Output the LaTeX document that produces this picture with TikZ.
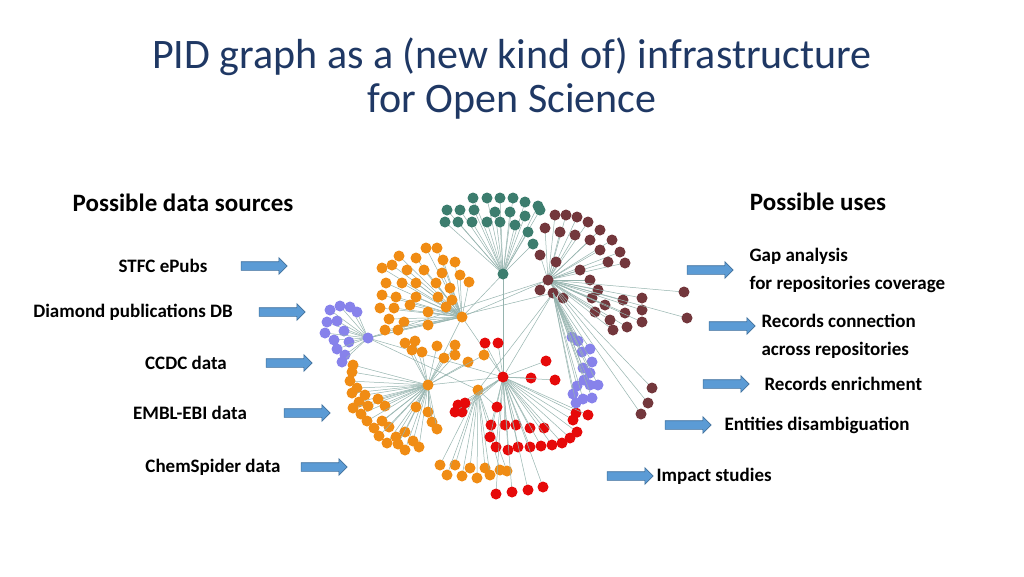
\documentclass[tikz,border=0pt]{standalone}
\usepackage{fontspec}
\setmainfont{Carlito}
\usetikzlibrary{shapes.arrows}
\definecolor{titleblue}{RGB}{31,56,100}
\definecolor{dteal}{RGB}{60,125,110}
\definecolor{dbrown}{RGB}{115,55,60}
\definecolor{dorange}{RGB}{240,140,20}
\definecolor{dpurple}{RGB}{135,130,235}
\definecolor{dred}{RGB}{230,10,10}
\definecolor{edgecol}{RGB}{150,180,175}
\definecolor{arrowblue}{RGB}{91,155,213}
\definecolor{arrowline}{RGB}{65,113,156}
\tikzset{
  dot/.style={circle,inner sep=0pt,minimum size=11pt,fill=#1},
  link/.style={draw=edgecol,line width=0.5pt},
  bluearrow/.style={single arrow,draw=arrowline,fill=arrowblue,line width=0.6pt,
    minimum width=16pt,minimum height=46pt,single arrow head extend=4pt,
    inner xsep=0pt,inner ysep=4pt},
  head/.style={font=\fontsize{25}{30}\selectfont\bfseries},
  lbl/.style={font=\fontsize{19}{28}\selectfont\bfseries,align=left}
}
\begin{document}
\begin{tikzpicture}[x=1pt,y=-1pt]
\useasboundingbox (0,0) rectangle (1024,576);
\fill[white] (0,0) rectangle (1024,576);

% title
\node[text=titleblue,align=center,font=\fontsize{42}{44}\selectfont] (title) at (512,79)
  {PID graph as a (new kind of) infrastructure\\for Open Science};

% hubs
\coordinate (hteal) at (503,274);
\coordinate (hbrown) at (548,280);
\coordinate (hbrownb) at (553,293);
\coordinate (horA) at (462,317);
\coordinate (hpur) at (368,338);
\coordinate (horB) at (428,385);
\coordinate (horC) at (478,390);
\coordinate (hred) at (503,377);
\coordinate (hredb) at (497,407);

% links between hubs
\foreach \a/\b in {hpur/horA,hpur/hred,hpur/horC,hpur/hbrownb,horA/hbrown,horA/hteal,horA/horB,
  horA/hred,hbrownb/horC,hbrownb/hred,hteal/hred,horB/hred,horC/hredb,hbrown/hpur}
  \path[link] (\a) -- (\b);

% teal
\foreach \x/\y [count=\i] in {473/198,487/198,500/198,513/198,525/202,538/206,447/210,460/210,
  474/210,495/212,510/212,525/216,540/210,445/222,458/222,472/222,487/222,500/222,515/225,
  528/232,533/244}{
  \path[link] (hteal) -- (\x,\y);
  \node[dot=dteal] (t\i) at (\x,\y) {};}
\node[dot=dteal] (thub) at (hteal) {};

% brown
\foreach \x/\y [count=\i] in {555/215,566/215,577/217,588/222,600/230,612/240,620/252,625/263,
  545/228,560/232,575/235,590/240,600/250,608/262,540/255,556/262,580/270,590/280,598/290,
  540/290,563/298,592/298,605/305,623/300,625/313,627/327,642/298,642/310,642/322,595/312,
  610/320,613/330,684/292,687/318,652/388,648/403,641/414}{
  \path[link] (hbrown) -- (\x,\y);
  \node[dot=dbrown] (b\i) at (\x,\y) {};}
\node[dot=dbrown] (bhub) at (hbrown) {};
\node[dot=dbrown] (bhubb) at (hbrownb) {};

% orange top
\foreach \x/\y [count=\i] in {426/248,437/248,399/256,416/258,443/260,455/262,382/268,392/265,
  407/270,424/270,442/273,460/275,386/283,402/283,416/283,436/283,450/288,469/282,382/295,
  396/297,416/297,438/297,452/300,380/308,394/308,410/305,428/312,446/307,389/319,404/322,
  385/330,398/330,428/325}{
  \path[link] (horA) -- (\x,\y);
  \node[dot=dorange] (oa\i) at (\x,\y) {};}
\node[dot=dorange] (oahub) at (horA) {};

% orange middle
\foreach \x/\y [count=\i] in {405/343,415/341,412/350,422/352,437/346,455/345,455/355,
  444/358,468/362,484/355}{
  \path[link] (horB) -- (\x,\y);
  \node[dot=dorange] (om\i) at (\x,\y) {};}

% purple left
\foreach \x/\y [count=\i] in {330/310,340/306,350/307,357/312,327/322,337/321,344/331,
  325/333,334/340,349/342,337/349,345/355,342/362}{
  \path[link] (hpur) -- (\x,\y);
  \node[dot=dpurple] (pl\i) at (\x,\y) {};}
\node[dot=dpurple] (plhub) at (hpur) {};

% orange left
\foreach \x/\y [count=\i] in {353/365,352/372,350/381,357/388,352/393,359/402,365/395,
  353/408,361/414,368/406,378/399,385/406,367/421,374/428,382/421,389/427,379/436,387/443,
  396/437,405/432,398/444,405/450,413/441,419/447,416/407,428/412,432/422,437/429}{
  \path[link] (horB) -- (\x,\y);
  \node[dot=dorange] (ol\i) at (\x,\y) {};}
\node[dot=dorange] (olhub) at (horB) {};

% orange bottom
\foreach \x/\y [count=\i] in {440/465,455/465,470/468,485/468,500/470,447/475,462/476,
  477/478,490/475,507/471}{
  \path[link] (horC) -- (\x,\y);
  \node[dot=dorange] (ob\i) at (\x,\y) {};}
\node[dot=dorange] (obhub) at (horC) {};

% red
\foreach \x/\y [count=\i] in {485/343,498/343,546/361,531/378,555/380,458/405,462/412,
  455/412,465/403,491/425,505/425,516/425,530/428,544/428,490/437,496/447,508/450,
  518/447,530/447,541/446,552/445,562/443,570/438,577/432,573/420,576/413,588/415,
  496/494,512/492,528/490,543/487}{
  \path[link] (hred) -- (\x,\y);
  \node[dot=dred] (r\i) at (\x,\y) {};}
\node[dot=dred] (rhub) at (hred) {};
\node[dot=dred] (rhubb) at (hredb) {};

% purple right
\foreach \x/\y [count=\i] in {572/337,578/341,582/352,590/349,592/362,583/368,590/373,
  584/380,577/386,590/385,598/385,592/398,573/394,576/403,583/399}{
  \path[link] (hbrownb) -- (\x,\y);
  \node[dot=dpurple] (pr\i) at (\x,\y) {};}

% headings
\node[head] (src) at (183,203) {Possible data sources};
\node[head] (use) at (818,202) {Possible uses};

% sources
\node[lbl] (s1) at (163,266) {STFC ePubs};
\node[lbl] (s2) at (133,312) {Diamond publications DB};
\node[lbl] (s3) at (186,363) {CCDC data};
\node[lbl] (s4) at (190,413) {EMBL-EBI data};
\node[lbl] (s5) at (213,467) {ChemSpider data};
\node[bluearrow] (a1) at (262,266) {};
\node[bluearrow] (a2) at (280,312) {};
\node[bluearrow] (a3) at (287,363) {};
\node[bluearrow] (a4) at (305,413) {};
\node[bluearrow] (a5) at (322,467) {};

% uses
\node[lbl,anchor=west] (u1) at (746,270) {Gap analysis\\for repositories coverage};
\node[lbl,anchor=west] (u2) at (758,336) {Records connection\\across repositories};
\node[lbl,anchor=west] (u3) at (761,384) {Records enrichment};
\node[lbl,anchor=west] (u4) at (721,425) {Entities disambiguation};
\node[lbl,anchor=west] (u5) at (653,476) {Impact studies};
\node[bluearrow] (b1) at (708,270) {};
\node[bluearrow] (b2) at (730,326) {};
\node[bluearrow] (b3) at (724,384) {};
\node[bluearrow] (b4) at (686,425) {};
\node[bluearrow] (b5) at (628,476) {};
\end{tikzpicture}
\end{document}
